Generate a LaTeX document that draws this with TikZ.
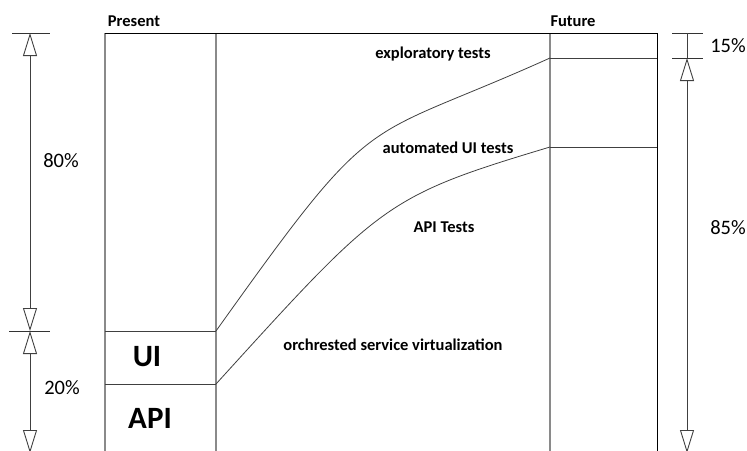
\documentclass[tikz,border=0pt]{standalone}
\usepackage{fontspec}
\setmainfont{Carlito}
\usetikzlibrary{arrows.meta}
\definecolor{frameGray}{HTML}{8A8A8A}
\definecolor{lineDark}{HTML}{404040}
\tikzset{
  frameline/.style={draw=frameGray, line width=1.2pt},
  edgeline/.style={draw=black, line width=1pt},
  curveline/.style={draw=lineDark, line width=0.8pt},
  tickline/.style={draw=black!80, line width=1pt},
  dimline/.style={draw=black!75, line width=1pt},
  opentip/.tip={Triangle[open, length=23pt, width=14pt, line width=0.9pt]},
  caption/.style={font=\bfseries\fontsize{16.5}{18}\selectfont, inner sep=0pt},
  share/.style={font=\fontsize{20.5}{23}\selectfont, inner sep=0pt},
  layer/.style={font=\bfseries\fontsize{31}{34}\selectfont, inner sep=0pt}
}
\begin{document}
\begin{tikzpicture}[x=1pt, y=-1pt]
\useasboundingbox (0,0) rectangle (747,450);
\clip (0,0) rectangle (747,450);

% frame corners and column edges
\coordinate (tl) at (105,33);
\coordinate (tr) at (657,33);
\coordinate (bl) at (105,460);
\coordinate (br) at (657,460);
\coordinate (p1t) at (216,33);
\coordinate (p1b) at (216,460);
\coordinate (f1t) at (550,33);
\coordinate (f1b) at (550,460);

% layer boundaries in the two columns
\coordinate (uiL) at (105,331);
\coordinate (uiR) at (216,331);
\coordinate (apiL) at (105,384);
\coordinate (apiR) at (216,384);
\coordinate (exL) at (550,58);
\coordinate (exR) at (657,58);
\coordinate (auL) at (550,147);
\coordinate (auR) at (657,147);

% columns
\draw[frameline] (tl) -- (bl);
\draw[frameline] (p1t) -- (p1b);
\draw[frameline] (f1t) -- (f1b);
\draw[edgeline] (tr) -- (br);
\draw[edgeline] (tl) -- (tr);

% layer lines
\draw[curveline] (uiL) -- (uiR);
\draw[curveline] (apiL) -- (apiR);
\draw[curveline] (exL) -- (exR);
\draw[curveline] (auL) -- (auR);

% transitions between present and future
\draw[curveline] (uiR) .. controls (380,101) and (357,145) .. (exL);
\draw[curveline] (apiR) .. controls (381,202.5) and (385,196.5) .. (auL);

% column headings
\node[caption] (present) at (134,21) {Present};
\node[caption] (future) at (573,21) {Future};

% layer captions
\node[caption] (explor) at (433,54) {exploratory tests};
\node[caption] (autoui) at (448,148) {automated UI tests};
\node[caption] (apitests) at (444,227) {API Tests};
\node[caption] (virt) at (393,345) {orchrested service virtualization};
\node[layer] (ui) at (147,357) {UI};
\node[layer] (api) at (150,418) {API};

% left dimension
\coordinate (lTop) at (30,33);
\coordinate (lMid) at (30,331);
\coordinate (lBot) at (30,453);
\draw[tickline] (12,33) -- (50,33);
\draw[tickline] (9,331) -- (50,331);
\draw[dimline, {opentip}-{opentip}] (lTop) -- (lMid);
\draw[dimline, {opentip}-{opentip}] (lMid) -- (lBot);
\node[share] (p80) at (61,161) {80\%};
\node[share] (p20) at (62,388) {20\%};

% right dimension
\coordinate (rTop) at (687,33);
\coordinate (rMid) at (687,58);
\coordinate (rBot) at (687,453);
\draw[tickline] (672,33) -- (703,33);
\draw[tickline] (672,58) -- (703,58);
\draw[dimline] (rTop) -- (rMid);
\draw[dimline, {opentip}-{opentip}] (rMid) -- (rBot);
\node[share] (p15) at (728,46) {15\%};
\node[share] (p85) at (728,228) {85\%};
\end{tikzpicture}
\end{document}
